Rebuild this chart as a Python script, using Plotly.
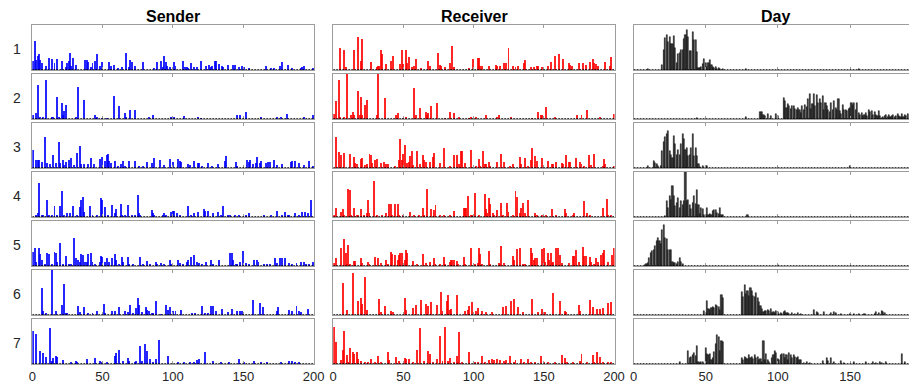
import plotly.graph_objects as go

# ---------------------------------------------------------------------------
# Data: (id, share in %) for each component row; ids not listed are zero.
# ---------------------------------------------------------------------------
S1 = [(1,21),(2,65),(3,23),(4,32),(5,35),(6,23),(7,15),(10,10),(12,27),(14,25),(16,15),(18,25),(21,21),(24,6),(25,15),(26,20),(27,38),(28,10),(29,27),(31,11),(38,23),(39,23),(40,18),(42,6),(43,15),(45,21),(46,36),(48,10),(50,17),(55,17),(56,8),(58,11),(61,4),(64,6),(67,38),(69,6),(70,23),(71,17),(73,10),(79,17),(87,4),(89,17),(92,19),(93,6),(94,32),(95,17),(96,10),(98,6),(101,17),(102,8),(107,19),(109,6),(110,6),(111,3),(113,15),(115,6),(117,6),(120,19),(124,10),(126,11),(127,6),(128,9),(130,21),(131,19),(133,14),(135,8),(136,6),(139,11),(143,11),(144,11),(147,6),(149,8),(151,6),(154,4),(166,8),(170,3),(172,3),(176,10),(178,17),(182,11),(185,4),(191,4),(192,6),(193,10),(200,4)]
S2 = [(1,8),(3,13),(4,75),(6,3),(8,5),(10,86),(14,3),(15,4),(18,50),(19,4),(21,35),(22,8),(23,18),(24,32),(31,3),(33,72),(37,42),(45,9),(46,4),(50,2),(53,2),(58,52),(62,30),(66,14),(67,4),(70,19),(73,19),(83,3),(86,8),(99,3),(101,3),(108,6),(118,3),(120,2),(146,8),(148,8),(152,15),(163,4),(174,4),(177,4),(181,12),(193,4),(200,8)]
S3 = [(1,40),(3,18),(4,17),(5,18),(7,13),(9,69),(11,11),(13,8),(15,28),(17,11),(19,57),(20,11),(22,17),(23,7),(24,13),(26,18),(28,22),(30,7),(32,34),(34,49),(35,9),(37,9),(40,9),(42,22),(44,9),(48,19),(50,25),(52,15),(53,28),(54,31),(55,15),(56,11),(59,15),(61,5),(63,9),(65,15),(66,5),(69,15),(73,15),(76,5),(79,5),(82,13),(85,11),(87,23),(91,18),(94,7),(98,21),(100,13),(104,21),(105,15),(106,13),(111,9),(112,7),(115,15),(118,11),(119,11),(121,5),(125,11),(128,5),(132,9),(137,15),(138,27),(145,13),(146,5),(153,17),(154,13),(155,17),(157,9),(159,11),(160,25),(162,11),(163,15),(166,11),(168,13),(169,13),(172,17),(174,7),(178,9),(184,13),(185,15),(187,15),(190,11),(193,7),(197,15),(200,3)]
S4 = [(3,4),(4,10),(5,75),(7,4),(8,4),(11,38),(12,5),(14,5),(16,25),(18,4),(20,25),(21,58),(23,5),(25,8),(27,9),(29,25),(32,5),(34,22),(35,38),(36,44),(37,12),(41,25),(43,4),(46,4),(49,43),(50,38),(52,22),(54,5),(57,27),(59,8),(60,17),(63,29),(64,5),(66,5),(68,27),(71,5),(73,4),(75,50),(76,8),(77,5),(85,15),(86,9),(87,5),(93,4),(94,8),(95,5),(99,12),(100,14),(101,13),(103,10),(105,4),(111,25),(113,5),(115,8),(118,12),(122,18),(123,14),(125,14),(129,8),(132,12),(134,5),(136,25),(139,5),(141,4),(144,5),(147,5),(152,4),(154,8),(165,5),(170,4),(174,13),(178,5),(180,12),(182,5),(183,5),(187,9),(190,5),(192,12),(194,12),(196,8),(198,38)]
S5 = [(1,32),(2,39),(3,9),(5,39),(6,26),(7,13),(9,5),(11,30),(12,26),(14,5),(16,31),(17,30),(18,9),(20,51),(22,5),(24,22),(26,5),(28,5),(30,63),(31,17),(33,13),(34,9),(35,27),(36,24),(38,9),(39,9),(40,26),(42,28),(43,9),(45,5),(48,9),(49,23),(50,19),(52,9),(53,18),(55,9),(57,17),(59,26),(60,13),(62,5),(64,20),(65,9),(68,20),(69,5),(72,5),(77,20),(79,5),(82,11),(84,5),(88,9),(89,5),(92,7),(94,5),(98,14),(99,5),(104,13),(105,7),(107,5),(110,9),(111,14),(113,20),(115,24),(117,9),(119,7),(121,5),(124,9),(127,14),(129,5),(133,13),(141,30),(142,30),(143,14),(145,5),(146,5),(148,9),(150,33),(152,7),(154,5),(158,13),(160,14),(161,9),(165,5),(167,5),(169,5),(173,18),(174,7),(176,18),(178,17),(180,18),(183,7),(185,5),(188,7),(191,9),(193,9),(195,5),(197,5),(200,9)]
S6 = [(7,61),(8,10),(10,4),(14,100),(17,8),(21,23),(23,69),(24,4),(25,4),(33,21),(34,6),(37,17),(40,4),(43,4),(46,8),(51,24),(52,4),(57,8),(59,8),(62,17),(66,8),(68,6),(70,23),(72,4),(74,15),(75,38),(76,23),(78,6),(81,17),(82,12),(83,8),(85,4),(86,4),(88,31),(92,2),(95,23),(97,12),(98,17),(100,8),(102,8),(106,12),(114,4),(116,4),(121,21),(123,4),(125,4),(127,20),(129,21),(131,8),(135,14),(139,6),(142,14),(146,8),(148,10),(149,10),(157,34),(162,27),(164,18),(174,8),(175,17),(183,12),(185,8),(188,21),(190,8),(191,6),(196,14)]
S7 = [(1,73),(3,66),(6,30),(8,24),(10,15),(13,81),(14,7),(15,14),(17,17),(18,15),(22,8),(28,5),(31,7),(32,5),(39,12),(45,14),(48,6),(50,5),(53,5),(59,17),(60,24),(62,32),(65,7),(68,14),(69,7),(73,5),(74,7),(77,39),(78,7),(80,45),(82,29),(84,11),(86,5),(88,12),(90,53),(97,17),(104,3),(108,5),(112,5),(115,3),(117,9),(119,11),(123,26),(129,7),(134,3),(140,5),(147,11),(151,3),(158,7),(163,3),(167,3),(177,5),(183,6),(185,7),(187,5),(190,3)]

R1 = [(5,49),(8,45),(9,6),(15,45),(18,74),(20,21),(21,70),(27,17),(31,6),(32,10),(33,10),(34,44),(35,36),(38,14),(41,19),(43,32),(48,14),(49,44),(50,14),(52,44),(53,15),(54,29),(56,6),(58,10),(59,25),(63,4),(68,21),(69,8),(75,38),(76,11),(77,10),(80,6),(83,15),(85,53),(86,6),(97,4),(100,25),(103,27),(104,27),(105,10),(106,8),(111,8),(116,11),(117,10),(119,10),(122,15),(123,16),(125,50),(128,8),(130,6),(132,8),(136,15),(137,23),(141,6),(143,6),(145,8),(146,10),(149,6),(153,8),(155,17),(158,32),(161,36),(164,25),(168,15),(169,11),(170,8),(175,15),(178,15),(180,11),(183,17),(185,25),(186,15),(187,14),(189,10),(194,17),(197,10),(198,30)]
R2 = [(1,12),(2,40),(4,86),(5,5),(8,4),(10,100),(13,8),(14,15),(15,8),(18,63),(19,8),(20,50),(21,8),(23,31),(24,42),(31,8),(32,100),(37,46),(45,8),(46,14),(50,2),(52,4),(58,69),(59,8),(62,25),(66,15),(67,8),(68,13),(70,28),(74,35),(80,2),(83,15),(86,13),(90,5),(97,2),(98,4),(102,5),(109,9),(117,5),(118,8),(127,5),(142,2),(146,15),(148,8),(149,9),(152,27),(158,5),(174,8),(177,8),(181,21),(190,5),(200,12)]
R3 = [(2,68),(4,36),(6,30),(8,33),(12,32),(15,24),(16,11),(17,8),(20,20),(21,22),(23,7),(24,9),(26,32),(27,28),(28,11),(30,17),(31,20),(34,11),(36,13),(38,9),(39,9),(44,5),(47,17),(48,64),(49,18),(50,32),(51,51),(53,11),(54,13),(55,26),(56,37),(57,7),(60,38),(62,9),(64,28),(65,18),(66,13),(69,13),(71,24),(72,34),(76,11),(79,45),(83,3),(86,29),(88,30),(90,9),(91,37),(92,37),(94,11),(98,39),(102,5),(104,20),(105,5),(107,37),(108,9),(109,9),(111,13),(112,5),(117,13),(120,32),(122,14),(126,5),(128,9),(133,24),(134,9),(137,23),(139,5),(141,17),(142,45),(144,27),(145,15),(149,22),(153,15),(156,8),(157,8),(159,13),(163,11),(164,9),(166,30),(168,13),(169,14),(173,23),(176,13),(177,9),(179,5),(182,28),(184,7),(186,32),(192,5),(193,19),(194,8),(200,3)]
R4 = [(1,5),(2,19),(6,11),(7,17),(8,5),(11,62),(12,60),(13,4),(15,21),(17,5),(18,4),(20,17),(22,4),(24,8),(25,38),(26,9),(29,79),(31,5),(35,4),(38,8),(40,28),(41,28),(42,5),(44,28),(46,28),(47,4),(50,4),(55,11),(58,4),(61,5),(64,21),(65,5),(67,62),(70,17),(72,15),(73,26),(76,5),(79,4),(83,4),(86,14),(93,19),(94,21),(95,21),(96,47),(98,5),(99,5),(101,53),(104,5),(108,51),(109,17),(110,9),(111,43),(112,29),(114,8),(115,4),(117,15),(120,32),(121,5),(124,32),(125,11),(128,5),(130,58),(131,45),(133,8),(134,19),(135,32),(137,8),(139,38),(144,10),(145,5),(149,4),(152,5),(156,17),(159,5),(165,17),(166,8),(171,5),(172,9),(179,35),(181,8),(183,5),(192,19),(195,41),(196,5),(198,4)]
R5 = [(1,7),(2,18),(6,39),(8,60),(9,30),(10,5),(11,47),(12,5),(15,11),(16,11),(20,17),(21,7),(25,9),(26,5),(30,19),(32,18),(34,7),(38,14),(39,5),(41,32),(42,26),(44,24),(46,13),(47,24),(48,28),(49,28),(51,13),(52,36),(53,30),(57,11),(60,5),(64,27),(66,7),(69,9),(72,17),(73,5),(76,5),(79,20),(80,5),(83,9),(84,14),(85,13),(86,14),(88,11),(89,5),(93,20),(94,5),(98,40),(101,5),(103,7),(104,39),(105,26),(106,5),(111,34),(112,5),(118,7),(119,5),(120,45),(122,7),(128,22),(129,14),(131,37),(133,40),(135,5),(137,5),(141,41),(142,30),(143,13),(144,17),(145,18),(149,37),(150,39),(151,9),(153,30),(154,13),(155,30),(156,7),(157,9),(159,41),(160,41),(162,24),(163,7),(168,7),(171,22),(172,22),(173,36),(175,9),(178,42),(179,22),(180,22),(183,20),(184,9),(186,5),(187,17),(189,9),(191,25),(192,30),(193,36),(196,9),(199,24),(200,41)]
R6 = [(7,71),(10,11),(14,94),(18,31),(20,37),(21,25),(23,85),(24,12),(33,35),(34,6),(37,21),(41,8),(43,6),(51,37),(52,12),(57,15),(59,23),(63,33),(66,24),(68,20),(70,28),(74,23),(77,52),(78,8),(81,31),(82,44),(83,12),(84,14),(88,44),(94,8),(96,12),(97,20),(99,29),(102,8),(103,15),(106,8),(109,6),(113,6),(121,17),(123,21),(127,31),(129,36),(132,18),(135,6),(142,35),(146,6),(149,14),(151,6),(157,50),(162,31),(165,10),(166,6),(175,23),(176,8),(183,33),(185,18),(188,14),(190,14),(192,15),(196,27),(198,28)]
R7 = [(1,83),(2,50),(6,9),(7,32),(8,73),(10,20),(11,5),(12,35),(14,27),(15,22),(17,27),(18,11),(20,7),(23,3),(25,5),(27,11),(30,5),(32,17),(34,5),(39,27),(40,9),(45,15),(47,7),(51,14),(52,12),(54,12),(57,5),(60,32),(62,79),(65,7),(68,30),(69,22),(71,5),(74,11),(76,62),(78,7),(80,82),(82,7),(83,14),(86,5),(88,17),(89,5),(90,72),(92,5),(97,27),(101,5),(103,3),(106,18),(108,3),(111,8),(113,11),(115,8),(117,12),(119,8),(122,7),(123,8),(126,18),(129,5),(130,8),(134,11),(136,5),(139,12),(141,5),(144,3),(148,18),(150,5),(153,3),(158,3),(163,20),(165,14),(167,5),(171,3),(176,7),(177,22),(181,3),(185,21),(186,5),(188,26),(190,16),(192,5),(196,3),(198,3)]

D1 = [(10,2),(20,12),(21,45),(22,72),(23,78),(24,62),(25,74),(26,58),(27,58),(28,75),(29,48),(30,16),(31,36),(32,37),(33,44),(34,44),(35,68),(36,78),(37,89),(38,74),(39,43),(40,43),(41,85),(42,67),(43,67),(44,40),(45,4),(46,5),(47,7),(48,13),(49,24),(50,15),(51,7),(52,15),(53,22),(54,12),(55,7),(56,4),(57,7),(58,3),(59,5),(60,2),(62,2),(78,3),(156,2)]
D2 = [(44,3),(78,4),(88,15),(89,15),(90,10),(91,7),(93,11),(95,7),(99,11),(100,6),(104,47),(105,40),(106,25),(107,34),(108,30),(109,22),(110,30),(111,28),(112,22),(113,19),(114,25),(115,20),(116,14),(117,28),(118,20),(119,32),(120,26),(121,45),(122,55),(123,22),(124,34),(125,55),(126,30),(127,53),(128,35),(129,44),(130,36),(131,51),(132,21),(133,35),(134,30),(135,20),(136,15),(137,36),(138,20),(139,40),(140,25),(141,20),(142,45),(143,17),(144,12),(145,32),(146,20),(147,19),(148,17),(149,22),(150,25),(151,35),(152,32),(153,35),(154,20),(155,35),(156,14),(157,10),(158,14),(159,6),(160,10),(161,13),(162,6),(163,20),(164,15),(165,17),(166,10),(167,15),(168,10),(169,6),(170,18),(171,6),(172,3),(173,5),(174,7),(175,10),(176,4),(177,10),(178,5),(179,7),(180,10),(181,4),(182,6),(183,11),(184,7),(185,4),(186,12),(187,5),(188,10),(189,6),(190,12)]
D3 = [(10,5),(14,15),(15,11),(16,8),(17,5),(19,5),(20,38),(21,58),(22,68),(23,75),(24,83),(25,38),(26,28),(27,23),(28,71),(29,53),(30,30),(31,41),(32,30),(33,53),(34,75),(35,64),(36,41),(37,45),(38,26),(39,30),(40,45),(41,75),(42,26),(43,45),(44,26),(45,8),(46,3),(48,4),(50,5),(51,5),(150,5)]
D4 = [(22,2),(23,35),(24,20),(25,46),(26,38),(27,68),(28,46),(29,25),(30,31),(31,42),(32,20),(33,35),(34,27),(35,35),(36,100),(37,35),(38,38),(39,27),(40,18),(41,31),(42,46),(43,30),(44,61),(45,27),(46,7),(47,20),(48,18),(49,5),(50,4),(51,20),(52,5),(53,7),(54,5),(55,13),(56,16),(57,16),(58,9),(59,6),(60,20),(61,5),(62,5),(79,5)]
D5 = [(8,2),(9,4),(10,6),(11,17),(12,29),(13,34),(14,36),(15,45),(16,55),(17,62),(18,55),(19,50),(20,81),(21,92),(22,62),(23,59),(24,36),(25,36),(26,36),(27,10),(28,6),(29,6),(30,4),(31,8),(32,17),(33,8),(34,5),(100,2)]
D6 = [(49,8),(50,5),(51,31),(52,14),(53,12),(54,15),(55,18),(56,15),(57,23),(58,20),(59,18),(60,12),(61,44),(62,37),(75,52),(76,40),(77,66),(78,46),(79,53),(80,42),(81,61),(82,53),(83,43),(84,40),(85,48),(86,38),(87,29),(88,20),(89,14),(90,6),(91,10),(92,8),(93,12),(94,10),(95,14),(96,5),(97,6),(98,4),(99,8),(100,6),(101,3),(102,5),(103,3),(104,6),(105,8),(106,5),(107,4),(108,3),(110,4),(112,3),(114,4),(116,3),(125,12),(127,6),(128,4),(132,6),(137,4),(139,6),(140,4),(144,2),(150,3),(153,3),(156,3),(160,2),(167,3),(168,6),(170,4),(172,10),(173,6),(174,4)]
D7 = [(32,5),(38,29),(39,14),(40,16),(41,20),(42,24),(43,18),(44,40),(45,5),(46,3),(47,4),(48,5),(50,35),(51,22),(52,19),(53,22),(54,10),(55,13),(56,26),(57,44),(58,65),(59,61),(60,29),(61,51),(62,49),(75,14),(76,9),(77,16),(78,14),(79,12),(80,19),(81,14),(82,16),(83,12),(84,20),(85,14),(86,16),(87,10),(88,12),(89,5),(90,51),(91,10),(92,22),(93,9),(94,5),(96,14),(97,20),(98,29),(99,24),(100,12),(101,8),(102,19),(103,22),(104,22),(105,14),(106,19),(107,10),(108,24),(109,19),(110,14),(111,20),(112,16),(113,14),(114,16),(115,10),(116,9),(118,3),(120,5),(122,3),(131,7),(134,14),(135,7),(137,14),(139,5),(144,7),(146,3),(153,4),(161,4),(166,5),(168,3),(171,5),(172,3),(175,4),(186,22),(188,4)]

COLUMN_TITLES = ["Sender", "Receiver", "Day"]
ROW_LABELS = ["1", "2", "3", "4", "5", "6", "7"]
SENDER_TICKS = [0, 50, 100, 150, 200]
DAY_TICKS = [0, 50, 100, 150]

COLUMNS = [
    [S1, S2, S3, S4, S5, S6, S7],
    [R1, R2, R3, R4, R5, R6, R7],
    [D1, D2, D3, D4, D5, D6, D7],
]

# ---------------------------------------------------------------------------
# Layout geometry (pixels)
# ---------------------------------------------------------------------------
W, H = 919, 390
COL_PX = [(28.7, 315.0), (334.3, 620.0), (639.3, 919.0)]
COL_RANGE = [(0, 200.4), (0, 200.4), (0, 190.8)]
COL_TICKS = [SENDER_TICKS, SENDER_TICKS, DAY_TICKS]
ROW_TOP, ROW_STEP, ROW_H = 25.0, 49.0, 45.0

FONT = "Liberation Sans, Arial, Helvetica, sans-serif"
FRAME = "#9c9c9c"

BAR_STYLE = [
    dict(color="#0000ff", opacity=0.85, line=dict(width=0)),
    dict(color="#ff0000", opacity=0.85, line=dict(width=0)),
    dict(color="#3c3c3c", line=dict(color="#000000", width=0.5)),
]
BAR_WIDTH = [0.7, 0.7, 0.8]

fig = go.Figure()
layout = {}
shapes = []
annotations = []

for c in range(3):
    x0px, x1px = COL_PX[c]
    for r in range(7):
        k = r * 3 + c + 1
        xname = "x" if k == 1 else f"x{k}"
        yname = "y" if k == 1 else f"y{k}"
        series = COLUMNS[c][r]
        ids = [p[0] for p in series]
        vals = [p[1] for p in series]
        fig.add_trace(go.Bar(
            x=ids, y=vals, xaxis=xname, yaxis=yname,
            width=BAR_WIDTH[c], marker=BAR_STYLE[c], showlegend=False,
            hoverinfo="x+y",
        ))
        top = ROW_TOP + r * ROW_STEP
        bot = top + ROW_H
        layout["xaxis" if k == 1 else f"xaxis{k}"] = dict(
            domain=[x0px / W, x1px / W], range=list(COL_RANGE[c]), anchor=yname,
            showline=True, linecolor=FRAME, linewidth=1, mirror="ticks",
            ticks="inside", ticklen=3, tickcolor=FRAME, tickwidth=1,
            tickvals=COL_TICKS[c], showticklabels=(r == 6),
            tickfont=dict(family=FONT, size=13, color="#262626"),
            showgrid=False, zeroline=False, fixedrange=True,
        )
        layout["yaxis" if k == 1 else f"yaxis{k}"] = dict(
            domain=[1 - bot / H, 1 - top / H], range=[0, 100], anchor=xname,
            showline=True, linecolor=FRAME, linewidth=1, mirror=(c < 2),
            ticks="", showticklabels=False,
            showgrid=False, zeroline=False, fixedrange=True,
        )
        # dotted zero baseline along the bottom of each panel
        shapes.append(dict(
            type="line", xref=xname, yref=yname,
            x0=COL_RANGE[c][0], x1=COL_RANGE[c][1], y0=0, y1=0,
            line=dict(color="#000000", width=1.6, dash="2px,1px"),
        ))

for c, title in enumerate(COLUMN_TITLES):
    cx = [172.0, 478.0, 783.0][c]
    annotations.append(dict(
        text=f"<b>{title}</b>", x=cx / W, y=1 - 16.5 / H, xref="paper", yref="paper",
        xanchor="center", yanchor="middle", showarrow=False,
        font=dict(family=FONT, size=16, color="#000000"),
    ))

for r, label in enumerate(ROW_LABELS):
    cy = ROW_TOP + r * ROW_STEP + ROW_H / 2 + 1.5
    annotations.append(dict(
        text=label, x=13.5 / W, y=1 - cy / H, xref="paper", yref="paper",
        xanchor="center", yanchor="middle", showarrow=False,
        font=dict(family=FONT, size=14, color="#262626"),
    ))

fig.update_layout(
    width=W, height=H,
    margin=dict(l=0, r=0, t=0, b=0),
    paper_bgcolor="#ffffff", plot_bgcolor="#ffffff",
    barmode="overlay", bargap=0,
    shapes=shapes, annotations=annotations,
    **layout,
)

fig.write_html("out.html", config={"displayModeBar": False})
